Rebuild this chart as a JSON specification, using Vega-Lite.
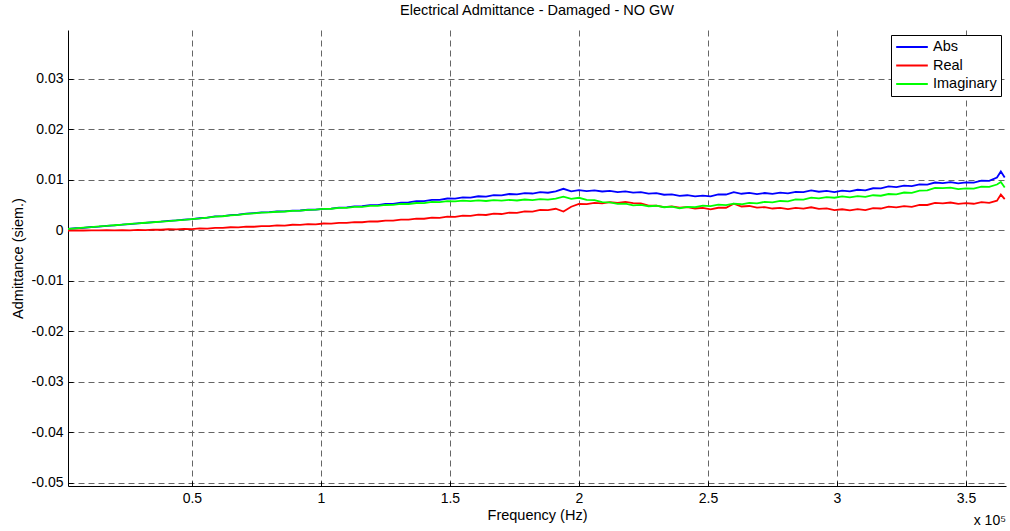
{
  "$schema": "https://vega.github.io/schema/vega-lite/v6.json",
  "width": 938,
  "height": 456,
  "autosize": "none",
  "padding": {"left": 68, "top": 30, "right": 4, "bottom": 45},
  "background": "white",
  "title": {"text": "Electrical Admittance - Damaged - NO GW", "font": "Liberation Sans", "fontSize": 14.5, "fontWeight": "normal", "color": "black", "offset": 12, "anchor": "middle"},
  "config": {"view": {"stroke": null}, "font": "Liberation Sans"},
  "datasets": {
    "adm": [
      {"f":2000,"Abs":0.0003,"Real":0,"Imaginary":0.0003},
      {"f":5000,"Abs":0.00044,"Real":0.00002,"Imaginary":0.00041},
      {"f":8000,"Abs":0.00053,"Real":0,"Imaginary":0.00055},
      {"f":11000,"Abs":0.00069,"Real":0.00004,"Imaginary":0.00066},
      {"f":14000,"Abs":0.00078,"Real":0.00001,"Imaginary":0.0008},
      {"f":17000,"Abs":0.00093,"Real":0.00005,"Imaginary":0.0009},
      {"f":20000,"Abs":0.00102,"Real":0.00002,"Imaginary":0.00104},
      {"f":23000,"Abs":0.00117,"Real":0.00006,"Imaginary":0.00114},
      {"f":26000,"Abs":0.00127,"Real":0.00003,"Imaginary":0.00129},
      {"f":29000,"Abs":0.00142,"Real":0.00011,"Imaginary":0.00139},
      {"f":32000,"Abs":0.00151,"Real":0.00008,"Imaginary":0.00153},
      {"f":35000,"Abs":0.00166,"Real":0.00017,"Imaginary":0.00163},
      {"f":38000,"Abs":0.00175,"Real":0.00014,"Imaginary":0.00177},
      {"f":41000,"Abs":0.0019,"Real":0.00024,"Imaginary":0.00187},
      {"f":44000,"Abs":0.002,"Real":0.0002,"Imaginary":0.00202},
      {"f":47000,"Abs":0.00215,"Real":0.0003,"Imaginary":0.00211},
      {"f":50000,"Abs":0.00224,"Real":0.00026,"Imaginary":0.00226},
      {"f":53000,"Abs":0.00242,"Real":0.0004,"Imaginary":0.00238},
      {"f":56000,"Abs":0.00253,"Real":0.00038,"Imaginary":0.00255},
      {"f":59000,"Abs":0.00278,"Real":0.00052,"Imaginary":0.00275},
      {"f":62000,"Abs":0.00284,"Real":0.0005,"Imaginary":0.00282},
      {"f":65000,"Abs":0.00303,"Real":0.00064,"Imaginary":0.00299},
      {"f":68000,"Abs":0.00313,"Real":0.00062,"Imaginary":0.0031},
      {"f":71000,"Abs":0.00333,"Real":0.00076,"Imaginary":0.00328},
      {"f":74000,"Abs":0.00344,"Real":0.00074,"Imaginary":0.00339},
      {"f":77000,"Abs":0.00358,"Real":0.00088,"Imaginary":0.00353},
      {"f":80000,"Abs":0.00362,"Real":0.00086,"Imaginary":0.00358},
      {"f":83000,"Abs":0.00376,"Real":0.001,"Imaginary":0.00371},
      {"f":86000,"Abs":0.00379,"Real":0.00098,"Imaginary":0.00376},
      {"f":89000,"Abs":0.00393,"Real":0.00113,"Imaginary":0.0039},
      {"f":92000,"Abs":0.00396,"Real":0.0011,"Imaginary":0.00394},
      {"f":95000,"Abs":0.0041,"Real":0.00125,"Imaginary":0.00408},
      {"f":98000,"Abs":0.00412,"Real":0.00122,"Imaginary":0.00412},
      {"f":101000,"Abs":0.00428,"Real":0.00138,"Imaginary":0.00426},
      {"f":104000,"Abs":0.00433,"Real":0.00135,"Imaginary":0.0043},
      {"f":107000,"Abs":0.00453,"Real":0.00152,"Imaginary":0.00446},
      {"f":110000,"Abs":0.00457,"Real":0.0015,"Imaginary":0.00449},
      {"f":113000,"Abs":0.00478,"Real":0.00167,"Imaginary":0.00467},
      {"f":116000,"Abs":0.0048,"Real":0.00163,"Imaginary":0.00468},
      {"f":119000,"Abs":0.00502,"Real":0.00182,"Imaginary":0.00486},
      {"f":122000,"Abs":0.00504,"Real":0.00178,"Imaginary":0.00486},
      {"f":125000,"Abs":0.00526,"Real":0.00196,"Imaginary":0.00505},
      {"f":128000,"Abs":0.00528,"Real":0.00195,"Imaginary":0.00506},
      {"f":131000,"Abs":0.00552,"Real":0.00216,"Imaginary":0.00525},
      {"f":134000,"Abs":0.00555,"Real":0.00213,"Imaginary":0.00524},
      {"f":137000,"Abs":0.0058,"Real":0.00235,"Imaginary":0.00544},
      {"f":140000,"Abs":0.0058,"Real":0.00232,"Imaginary":0.00543},
      {"f":143000,"Abs":0.00607,"Real":0.00256,"Imaginary":0.00565},
      {"f":146000,"Abs":0.00606,"Real":0.0025,"Imaginary":0.00562},
      {"f":149000,"Abs":0.00633,"Real":0.00275,"Imaginary":0.00583},
      {"f":152000,"Abs":0.0063,"Real":0.0027,"Imaginary":0.00576},
      {"f":155000,"Abs":0.00656,"Real":0.00294,"Imaginary":0.00591},
      {"f":158000,"Abs":0.00651,"Real":0.00288,"Imaginary":0.0058},
      {"f":161000,"Abs":0.00678,"Real":0.00314,"Imaginary":0.00596},
      {"f":164000,"Abs":0.00672,"Real":0.00307,"Imaginary":0.00584},
      {"f":167000,"Abs":0.00699,"Real":0.00333,"Imaginary":0.00602},
      {"f":170000,"Abs":0.00694,"Real":0.00326,"Imaginary":0.0059},
      {"f":173000,"Abs":0.00722,"Real":0.00354,"Imaginary":0.00606},
      {"f":176000,"Abs":0.00715,"Real":0.00347,"Imaginary":0.00594},
      {"f":179000,"Abs":0.0074,"Real":0.00378,"Imaginary":0.00613},
      {"f":182000,"Abs":0.00732,"Real":0.00374,"Imaginary":0.00602},
      {"f":185000,"Abs":0.00758,"Real":0.00407,"Imaginary":0.00622},
      {"f":188000,"Abs":0.00747,"Real":0.00402,"Imaginary":0.0061},
      {"f":191000,"Abs":0.00776,"Real":0.0043,"Imaginary":0.00631},
      {"f":194000,"Abs":0.00825,"Real":0.00375,"Imaginary":0.0067},
      {"f":197000,"Abs":0.00774,"Real":0.0047,"Imaginary":0.00626},
      {"f":200000,"Abs":0.008,"Real":0.00528,"Imaginary":0.00648},
      {"f":203000,"Abs":0.00778,"Real":0.0052,"Imaginary":0.00608},
      {"f":206000,"Abs":0.00795,"Real":0.00546,"Imaginary":0.00602},
      {"f":209000,"Abs":0.00772,"Real":0.00538,"Imaginary":0.0056},
      {"f":212000,"Abs":0.00786,"Real":0.00562,"Imaginary":0.00558},
      {"f":215000,"Abs":0.0076,"Real":0.00545,"Imaginary":0.00526},
      {"f":218000,"Abs":0.00774,"Real":0.00568,"Imaginary":0.0053},
      {"f":221000,"Abs":0.00748,"Real":0.00542,"Imaginary":0.00498},
      {"f":224000,"Abs":0.00758,"Real":0.00538,"Imaginary":0.00508},
      {"f":227000,"Abs":0.00728,"Real":0.00494,"Imaginary":0.0048},
      {"f":230000,"Abs":0.0074,"Real":0.0049,"Imaginary":0.0049},
      {"f":233000,"Abs":0.00708,"Real":0.00464,"Imaginary":0.0046},
      {"f":236000,"Abs":0.00716,"Real":0.00478,"Imaginary":0.00472},
      {"f":239000,"Abs":0.00684,"Real":0.00452,"Imaginary":0.0044},
      {"f":242000,"Abs":0.00698,"Real":0.00464,"Imaginary":0.00468},
      {"f":245000,"Abs":0.00675,"Real":0.00435,"Imaginary":0.0046},
      {"f":248000,"Abs":0.00692,"Real":0.00446,"Imaginary":0.00492},
      {"f":251000,"Abs":0.00676,"Real":0.0042,"Imaginary":0.00483},
      {"f":254000,"Abs":0.00714,"Real":0.0045,"Imaginary":0.00512},
      {"f":257000,"Abs":0.00712,"Real":0.0045,"Imaginary":0.00501},
      {"f":260000,"Abs":0.0076,"Real":0.0053,"Imaginary":0.0053},
      {"f":263000,"Abs":0.00727,"Real":0.00475,"Imaginary":0.00519},
      {"f":266000,"Abs":0.00744,"Real":0.00485,"Imaginary":0.00548},
      {"f":269000,"Abs":0.00721,"Real":0.00454,"Imaginary":0.00537},
      {"f":272000,"Abs":0.00742,"Real":0.00464,"Imaginary":0.00566},
      {"f":275000,"Abs":0.00725,"Real":0.00435,"Imaginary":0.00555},
      {"f":278000,"Abs":0.00748,"Real":0.00446,"Imaginary":0.00584},
      {"f":281000,"Abs":0.00734,"Real":0.00422,"Imaginary":0.00576},
      {"f":284000,"Abs":0.00766,"Real":0.00448,"Imaginary":0.00614},
      {"f":287000,"Abs":0.00758,"Real":0.00434,"Imaginary":0.00612},
      {"f":290000,"Abs":0.00792,"Real":0.0046,"Imaginary":0.0065},
      {"f":293000,"Abs":0.00767,"Real":0.00428,"Imaginary":0.00636},
      {"f":296000,"Abs":0.00784,"Real":0.00436,"Imaginary":0.00662},
      {"f":299000,"Abs":0.00761,"Real":0.00404,"Imaginary":0.00648},
      {"f":302000,"Abs":0.00788,"Real":0.0042,"Imaginary":0.00674},
      {"f":305000,"Abs":0.00775,"Real":0.004,"Imaginary":0.00655},
      {"f":308000,"Abs":0.00806,"Real":0.00422,"Imaginary":0.0068},
      {"f":311000,"Abs":0.00796,"Real":0.00405,"Imaginary":0.00664},
      {"f":314000,"Abs":0.00836,"Real":0.00442,"Imaginary":0.00698},
      {"f":317000,"Abs":0.00832,"Real":0.00435,"Imaginary":0.00688},
      {"f":320000,"Abs":0.00872,"Real":0.00472,"Imaginary":0.00722},
      {"f":323000,"Abs":0.00859,"Real":0.00456,"Imaginary":0.00715},
      {"f":326000,"Abs":0.0089,"Real":0.00484,"Imaginary":0.00752},
      {"f":329000,"Abs":0.00877,"Real":0.00468,"Imaginary":0.00745},
      {"f":332000,"Abs":0.00914,"Real":0.00506,"Imaginary":0.0079},
      {"f":335000,"Abs":0.0091,"Real":0.00505,"Imaginary":0.00795},
      {"f":338000,"Abs":0.0095,"Real":0.00548,"Imaginary":0.00844},
      {"f":341000,"Abs":0.00939,"Real":0.00538,"Imaginary":0.00837},
      {"f":344000,"Abs":0.00958,"Real":0.00554,"Imaginary":0.0085},
      {"f":347000,"Abs":0.00933,"Real":0.00526,"Imaginary":0.00819},
      {"f":350000,"Abs":0.00952,"Real":0.00542,"Imaginary":0.00832},
      {"f":353000,"Abs":0.00948,"Real":0.00529,"Imaginary":0.00828},
      {"f":356000,"Abs":0.00988,"Real":0.0056,"Imaginary":0.00868},
      {"f":359000,"Abs":0.00984,"Real":0.00547,"Imaginary":0.00864},
      {"f":362000,"Abs":0.0105,"Real":0.0059,"Imaginary":0.0091},
      {"f":363500,"Abs":0.0117,"Real":0.0071,"Imaginary":0.0096},
      {"f":365000,"Abs":0.0105,"Real":0.0062,"Imaginary":0.0085}
    ]
  },
  "layer": [
    {
      "data": {"name": "adm"},
      "transform": [{"fold": ["Abs", "Real", "Imaginary"], "as": ["Series", "value"]}],
      "mark": {"type": "line", "strokeWidth": 1.8, "clip": true},
      "encoding": {
        "x": {
          "field": "f", "type": "quantitative",
          "scale": {"domain": [2000, 365500], "nice": false, "zero": false},
          "axis": {
            "values": [50000, 100000, 150000, 200000, 250000, 300000, 350000],
            "labelExpr": "format(datum.value / 100000, '~g')",
            "grid": true, "gridDash": [6, 4], "gridColor": "#666666", "gridWidth": 1, "gridOpacity": 1,
            "domainColor": "#000000", "domainWidth": 1,
            "ticks": true, "tickSize": -5, "tickColor": "#000000",
            "labelFont": "Liberation Sans", "labelFontSize": 14, "labelColor": "#000000", "labelPadding": 10,
            "title": "Frequency (Hz)", "titleFont": "Liberation Sans", "titleFontSize": 14.5, "titleFontWeight": "normal", "titleColor": "#000000", "titlePadding": 3
          }
        },
        "y": {
          "field": "value", "type": "quantitative",
          "scale": {"domain": [-0.0506, 0.0397], "nice": false, "zero": false},
          "axis": {
            "values": [-0.05, -0.04, -0.03, -0.02, -0.01, 0, 0.01, 0.02, 0.03],
            "labelExpr": "abs(datum.value) < 1e-9 ? '0' : (datum.value < 0 ? '-' + format(-datum.value, '.2f') : format(datum.value, '.2f'))",
            "grid": true, "gridDash": [6, 4], "gridColor": "#666666", "gridWidth": 1, "gridOpacity": 1,
            "domainColor": "#000000", "domainWidth": 1,
            "ticks": true, "tickSize": -5, "tickColor": "#000000",
            "labelFont": "Liberation Sans", "labelFontSize": 14, "labelColor": "#000000", "labelPadding": 10,
            "title": "Admittance (siem.)", "titleFont": "Liberation Sans", "titleFontSize": 14.5, "titleFontWeight": "normal", "titleColor": "#000000", "titlePadding": 6
          }
        },
        "color": {
          "field": "Series", "type": "nominal",
          "scale": {"domain": ["Abs", "Real", "Imaginary"], "range": ["#0000ff", "#ff0000", "#00ff00"]},
          "legend": {
            "title": null, "orient": "top-right", "offset": 5,
            "symbolType": "stroke", "symbolSize": 1000, "symbolStrokeWidth": 2, "clipHeight": 16,
            "labelFont": "Liberation Sans", "labelFontSize": 14.5, "labelColor": "#000000", "labelOffset": 4,
            "strokeColor": "#000000", "fillColor": "#ffffff", "padding": 4, "rowPadding": 2.5
          }
        }
      }
    },
    {
      "data": {"values": [{"f": 365500, "v": -0.0506, "t": "x 10⁵"}]},
      "mark": {"type": "text", "align": "right", "baseline": "middle", "dy": 35, "fontSize": 14, "font": "Liberation Sans", "color": "#000000", "clip": false},
      "encoding": {
        "x": {"field": "f", "type": "quantitative"},
        "y": {"field": "v", "type": "quantitative"},
        "text": {"field": "t"}
      }
    }
  ]
}
